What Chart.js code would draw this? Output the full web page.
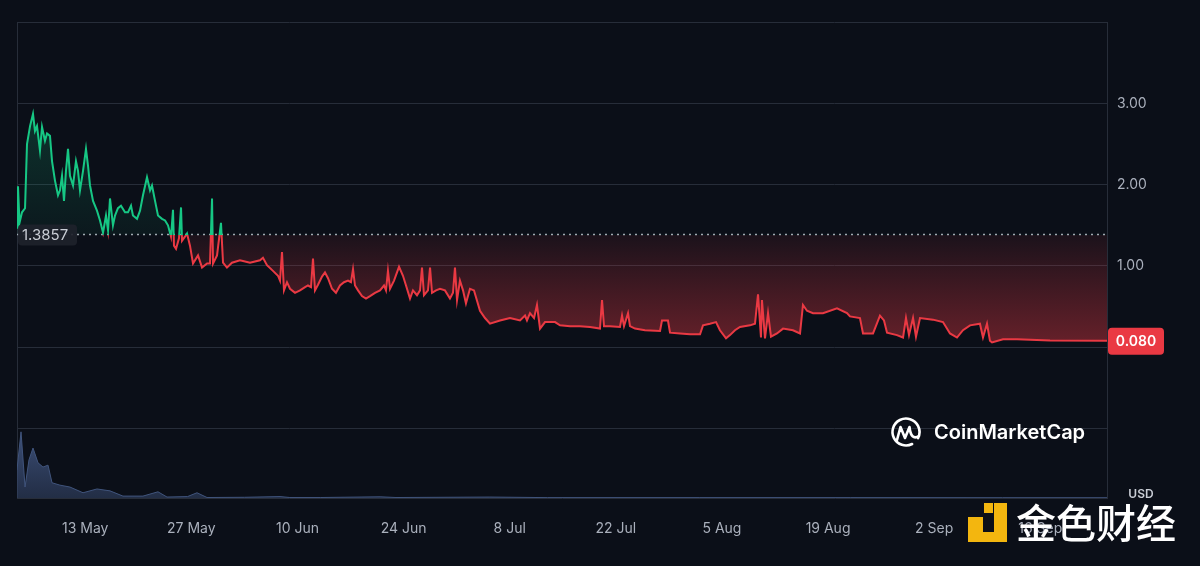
<!DOCTYPE html>
<html>
<head>
<meta charset="utf-8">
<script src="https://cdn.jsdelivr.net/npm/chart.js@4.4.1/dist/chart.umd.min.js"></script>
<style>
  html, body { margin: 0; padding: 0; background: #0b0f18; }
  #wrap { width: 1200px; height: 566px; }
</style>
</head>
<body>
<div id="wrap"><canvas id="chart" width="1200" height="566"></canvas></div>
<script>
// day 0 = 4 May
const tickDays = [9, 23, 37, 51, 65, 79, 93, 107, 121, 135];
const tickLabels = ["13 May", "27 May", "10 Jun", "24 Jun", "8 Jul", "22 Jul", "5 Aug", "19 Aug", "2 Sep", "16 Sep"];

const yGridValues = [-1, 0, 1, 2, 3, 4];
const yLabelValues = [1, 2, 3];

const BASE_PRICE = 1.3857;
const LAST_PRICE = 0.080;

const priceDays = [
  0, 0.13, 0.33, 0.66, 1.06, 1.32, 1.72, 2.11, 2.37, 2.64, 3.03, 3.30, 3.69, 3.96, 4.35, 4.62, 5.01, 5.41, 5.67, 5.94,
  6.20, 6.46, 6.73, 6.99, 7.39, 7.78, 8.05, 8.31, 8.71, 9.10, 9.37, 9.63, 10.03, 10.55, 10.95, 11.35, 11.74, 12.01, 12.27, 12.66,
  12.93, 13.32, 13.72, 14.25, 14.64, 15.04, 15.30, 15.83, 16.23, 16.62, 17.15, 17.55, 17.81, 18.21, 18.60, 19.13, 19.53, 19.92, 20.18,
  20.32, 20.58, 20.71, 20.98, 21.37, 21.64, 21.77, 22.16, 22.43, 22.82, 23.22, 23.88, 24.41, 25.07, 25.46, 25.73, 25.86, 26.39, 26.91, 27.18,
  27.70, 28.36, 29.42, 30.74, 32.06, 32.45, 32.98, 33.77, 34.43, 34.70, 34.96, 35.22, 35.62, 36.02, 36.68, 37.34, 38.00, 38.39, 38.79, 39.05,
  39.31, 39.71, 40.24, 40.63, 41.03, 41.56, 42.08, 42.61, 43.14, 43.67, 44.06, 44.33, 44.59, 44.99, 45.51, 46.04, 46.57, 47.23, 47.89, 48.42,
  48.68, 48.94, 49.21, 49.74, 50.40, 50.92, 51.32, 51.85, 52.24, 52.77, 53.17, 53.43, 53.69, 54.22, 54.49, 54.75, 55.28, 55.80, 56.46, 57.12,
  57.52, 57.78, 58.05, 58.44, 58.84, 59.23, 59.76, 60.29, 61.08, 61.74, 62.40, 63.72, 65.04, 66.36, 67.02, 67.28, 67.68, 68.21, 68.60, 69.00,
  69.66, 70.98, 71.64, 72.96, 74.27, 75.59, 76.91, 77.18, 77.44, 78.23, 79.55, 79.82, 80.08, 80.61, 80.87, 81.53, 82.85, 84.83, 85.09, 85.88,
  86.15, 87.47, 88.79, 90.11, 90.50, 91.42, 92.22, 92.74, 93.54, 94.06, 94.72, 95.38, 96.70, 97.36, 97.76, 98.15, 98.28, 98.68, 99.08, 99.47,
  100.26, 101.06, 102.37, 103.30, 103.69, 104.22, 105.01, 106.33, 108.18, 109.50, 109.89, 111.21, 111.61, 112.93, 113.85, 114.38, 114.78, 116.09, 116.89, 117.28,
  117.68, 118.21, 118.60, 119.13, 120.84, 122.16, 123.09, 124.01, 124.80, 125.73, 127.04, 127.44, 127.97, 128.36, 128.63, 130.08, 131.93, 136.28, 143.8
];
const priceValues = [
  1.47, 1.98, 1.53, 1.66, 1.71, 2.50, 2.72, 2.87, 2.66, 2.72, 2.42, 2.71, 2.54, 2.63, 2.60, 2.29, 2.05, 1.87, 1.93, 2.11,
  1.80, 2.17, 2.44, 2.11, 1.99, 2.29, 2.17, 1.93, 2.17, 2.44, 2.23, 1.99, 1.80, 1.68, 1.56, 1.41, 1.62, 1.44, 1.83, 1.50,
  1.62, 1.71, 1.74, 1.66, 1.66, 1.74, 1.62, 1.58, 1.68, 1.87, 2.09, 1.93, 1.99, 1.80, 1.62, 1.58, 1.56, 1.50, 1.41,
  1.36, 1.69, 1.25, 1.21, 1.34, 1.72, 1.31, 1.36, 1.40, 1.25, 1.03, 1.13, 0.98, 1.03, 1.03, 1.83, 1.03, 1.13, 1.53, 1.04,
  0.98, 1.04, 1.07, 1.04, 1.07, 1.10, 1.01, 0.94, 0.88, 0.82, 1.17, 0.70, 0.80, 0.72, 0.67, 0.70, 0.74, 0.76, 0.74, 1.09,
  0.70, 0.77, 0.87, 0.92, 0.85, 0.72, 0.67, 0.76, 0.80, 0.82, 0.80, 0.96, 0.76, 0.70, 0.63, 0.60, 0.63, 0.67, 0.70, 0.76,
  0.70, 0.94, 0.72, 0.82, 0.99, 0.88, 0.76, 0.60, 0.70, 0.64, 0.70, 0.98, 0.64, 0.70, 0.98, 0.67, 0.70, 0.72, 0.70, 0.60,
  0.67, 0.98, 0.58, 0.82, 0.70, 0.54, 0.72, 0.70, 0.45, 0.36, 0.29, 0.33, 0.36, 0.33, 0.39, 0.33, 0.42, 0.36, 0.52, 0.23,
  0.31, 0.31, 0.27, 0.26, 0.26, 0.25, 0.23, 0.58, 0.26, 0.26, 0.25, 0.39, 0.26, 0.42, 0.26, 0.23, 0.21, 0.20, 0.33, 0.33,
  0.18, 0.17, 0.16, 0.16, 0.27, 0.29, 0.31, 0.21, 0.11, 0.15, 0.21, 0.25, 0.27, 0.29, 0.65, 0.12, 0.58, 0.11, 0.42, 0.13,
  0.17, 0.23, 0.21, 0.17, 0.52, 0.45, 0.42, 0.42, 0.48, 0.42, 0.38, 0.36, 0.17, 0.17, 0.39, 0.33, 0.18, 0.15, 0.12, 0.36,
  0.15, 0.36, 0.13, 0.36, 0.34, 0.31, 0.17, 0.12, 0.21, 0.27, 0.29, 0.12, 0.29, 0.08, 0.06, 0.10, 0.10, 0.085, 0.08
];

const volDays = [0, 0.53, 1.06, 1.58, 2.11, 2.77, 3.43, 4.09, 4.62, 5.67, 6.99, 8.71, 10.55, 12.27, 13.98, 16.62, 18.6, 19.79, 22.5, 23.75, 25.07, 30, 34.7, 36, 40, 47.9, 50, 62.4, 70, 90, 110, 130, 143.8];
const volValues = [5.9, 13.9, 2.3, 8.0, 10.5, 7.4, 6.5, 6.9, 3.2, 2.7, 2.3, 1.1, 1.9, 1.5, 0.4, 0.4, 1.3, 0.2, 0.3, 1.1, 0.1, 0.15, 0.3, 0.1, 0.1, 0.25, 0.1, 0.2, 0.08, 0.08, 0.08, 0.06, 0.06];

const BG = "#0b0f18";
const GRID = "#272d39";
const TICK = "#aab0bc";
const GREEN = "#16c784";
const RED = "#ea3943";
const FONT = "Inter";

function splitAt(chart) {
  const area = chart.chartArea;
  const yb = chart.scales.y.getPixelForValue(BASE_PRICE);
  const t = Math.min(1, Math.max(0, (yb - area.top) / (area.bottom - area.top)));
  return { area, t };
}

function lineColor(c) {
  const chart = c.chart;
  if (!chart.chartArea) return GREEN;
  const { area, t } = splitAt(chart);
  const g = chart.ctx.createLinearGradient(0, area.top, 0, area.bottom);
  g.addColorStop(0, GREEN);
  g.addColorStop(t, GREEN);
  g.addColorStop(t, RED);
  g.addColorStop(1, RED);
  return g;
}

function fillColor(c) {
  const chart = c.chart;
  if (!chart.chartArea) return "rgba(0,0,0,0)";
  const { area, t } = splitAt(chart);
  const y0 = chart.scales.y.getPixelForValue(0);
  const t0 = Math.min(1, (y0 - area.top) / (area.bottom - area.top));
  const g = chart.ctx.createLinearGradient(0, area.top, 0, area.bottom);
  g.addColorStop(0, "rgba(22,199,132,0.30)");
  g.addColorStop(t, "rgba(22,199,132,0.05)");
  g.addColorStop(t, "rgba(234,57,67,0.07)");
  g.addColorStop(t0, "rgba(234,57,67,0.42)");
  g.addColorStop(1, "rgba(234,57,67,0.42)");
  return g;
}

function volFill(c) {
  const chart = c.chart;
  if (!chart.chartArea) return "rgba(58,76,115,0.7)";
  const y2 = chart.scales.y2;
  const g = chart.ctx.createLinearGradient(0, y2.getPixelForValue(14), 0, y2.getPixelForValue(0));
  g.addColorStop(0, "rgba(70,92,138,0.85)");
  g.addColorStop(1, "rgba(50,66,100,0.6)");
  return g;
}

function roundRect(ctx, x, y, w, h, r) {
  ctx.beginPath();
  ctx.moveTo(x + r, y);
  ctx.arcTo(x + w, y, x + w, y + h, r);
  ctx.arcTo(x + w, y + h, x, y + h, r);
  ctx.arcTo(x, y + h, x, y, r);
  ctx.arcTo(x, y, x + w, y, r);
  ctx.closePath();
}

const decor = {
  id: "decor",
  beforeDraw(chart) {
    const ctx = chart.ctx;
    ctx.save();
    ctx.fillStyle = BG;
    ctx.fillRect(0, 0, chart.width, chart.height);
    ctx.restore();
  },
  beforeDatasetsDraw(chart) {
    const { ctx, chartArea: a } = chart;
    const yb = chart.scales.y.getPixelForValue(BASE_PRICE);
    ctx.save();
    // left border
    ctx.strokeStyle = GRID;
    ctx.lineWidth = 1;
    ctx.beginPath();
    ctx.moveTo(a.left + 0.5, a.top);
    ctx.lineTo(a.left + 0.5, a.bottom);
    ctx.stroke();
    // dotted open price line
    ctx.strokeStyle = "rgba(190,196,206,0.85)";
    ctx.lineWidth = 1.5;
    ctx.setLineDash([2, 4]);
    ctx.beginPath();
    ctx.moveTo(a.left, yb);
    ctx.lineTo(a.right, yb);
    ctx.stroke();
    ctx.restore();
  },
  afterDraw(chart) {
    const { ctx, chartArea: a } = chart;
    const yb = chart.scales.y.getPixelForValue(BASE_PRICE);
    const yl = chart.scales.y.getPixelForValue(LAST_PRICE);
    ctx.save();

    // open price label
    ctx.fillStyle = "rgba(30,34,43,0.92)";
    roundRect(ctx, a.left + 1, yb - 10, 59, 21, 4);
    ctx.fill();
    ctx.fillStyle = "#c9cdd5";
    ctx.font = "15px " + FONT;
    ctx.textBaseline = "middle";
    ctx.textAlign = "left";
    ctx.fillText(BASE_PRICE.toFixed(4), a.left + 5, yb + 1);

    // last price label
    ctx.fillStyle = RED;
    roundRect(ctx, a.right + 1, yl - 13, 56, 27, 4);
    ctx.fill();
    ctx.fillStyle = "#ffffff";
    ctx.font = "600 14px " + FONT;
    ctx.textAlign = "center";
    ctx.fillText(LAST_PRICE.toFixed(3), a.right + 29, yl + 1);

    // currency
    ctx.fillStyle = "#c9cdd5";
    ctx.font = "600 12px " + FONT;
    ctx.fillText("USD", 1141, 494);

    // CoinMarketCap mark
    ctx.strokeStyle = "#ffffff";
    ctx.lineWidth = 2.6;
    ctx.lineCap = "round";
    ctx.lineJoin = "round";
    ctx.beginPath();
    ctx.arc(906, 432, 13.5, 0.35 * Math.PI, 2.15 * Math.PI);
    ctx.stroke();
    ctx.beginPath();
    ctx.moveTo(897, 440);
    ctx.lineTo(900.5, 427);
    ctx.lineTo(905, 438);
    ctx.lineTo(909.5, 427);
    ctx.quadraticCurveTo(911, 441, 919, 436);
    ctx.stroke();
    ctx.fillStyle = "#ffffff";
    ctx.font = "600 20px " + FONT;
    ctx.textAlign = "left";
    ctx.fillText("CoinMarketCap", 934, 433);

    // 金色财经 watermark
    ctx.fillStyle = "#f3b60f";
    ctx.fillRect(968, 517, 15, 15);
    ctx.fillRect(984, 503, 9, 10);
    ctx.fillRect(994, 503, 13, 39);
    ctx.fillRect(968, 532, 39, 10);
    ctx.fillStyle = "#ffffff";
    ctx.font = "500 40px 'Noto Sans CJK SC'";
    ctx.fillText("金色财经", 1016, 523);

    ctx.restore();
  }
};

const ctx = document.getElementById("chart");

new Chart(ctx, {
  type: "line",
  data: {
    datasets: [
      {
        label: "Price",
        data: priceDays.map((d, i) => ({ x: d, y: priceValues[i] })),
        yAxisID: "y",
        borderColor: lineColor,
        backgroundColor: fillColor,
        borderWidth: 2,
        pointRadius: 0,
        tension: 0,
        fill: { value: BASE_PRICE },
      },
      {
        label: "Volume",
        data: volDays.map((d, i) => ({ x: d, y: volValues[i] })),
        yAxisID: "y2",
        borderColor: "#40547c",
        backgroundColor: volFill,
        borderWidth: 1,
        pointRadius: 0,
        tension: 0,
        fill: "origin",
      },
    ],
  },
  options: {
    responsive: false,
    animation: false,
    layout: { padding: { left: 17, top: 22, right: 0, bottom: 0 } },
    plugins: {
      legend: { display: false },
      tooltip: { enabled: false },
    },
    scales: {
      x: {
        type: "linear",
        min: 0,
        max: 143.8,
        grid: { display: false },
        border: { display: true, color: GRID },
        afterBuildTicks: (s) => { s.ticks = tickDays.map((v) => ({ value: v })); },
        afterFit: (s) => { s.height = 68; },
        ticks: {
          color: TICK,
          font: { family: FONT, size: 14 },
          padding: 14,
          maxRotation: 0,
          autoSkip: false,
          callback: (v) => tickLabels[tickDays.indexOf(v)] ?? "",
        },
      },
      y: {
        position: "right",
        min: -1.853,
        max: 4.0,
        afterBuildTicks: (s) => { s.ticks = yGridValues.map((v) => ({ value: v })); },
        afterFit: (s) => { s.width = 93; },
        grid: { color: GRID, drawTicks: false },
        border: { display: true, color: GRID },
        ticks: {
          color: TICK,
          font: { family: FONT, size: 14 },
          padding: 10,
          callback: (v) => (yLabelValues.includes(v) ? v.toFixed(2) : ""),
        },
      },
      y2: {
        display: false,
        min: 0,
        max: 100,
      },
    },
  },
  plugins: [decor],
});
</script>
</body>
</html>
